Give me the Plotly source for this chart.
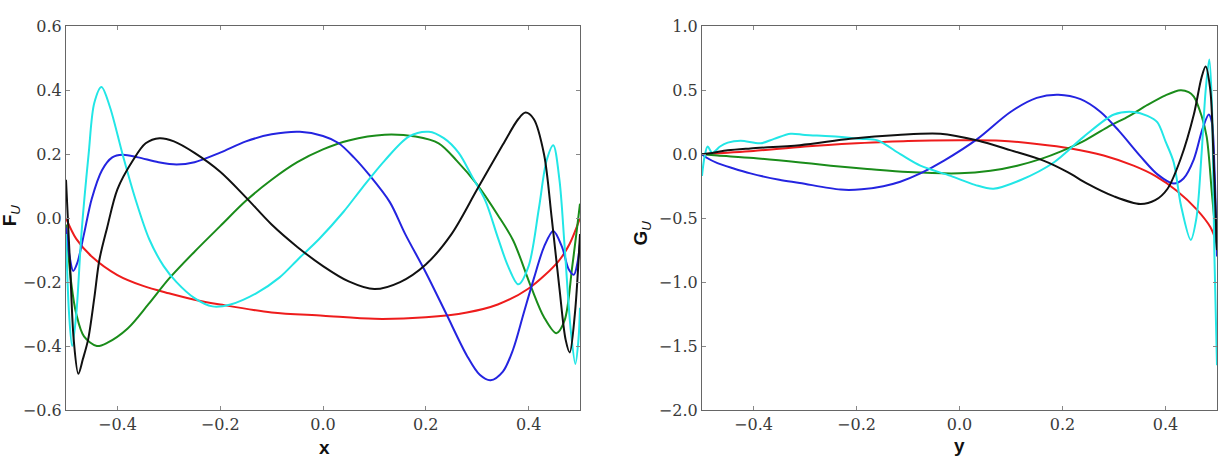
import plotly.graph_objects as go

# ---------------- Left panel: F_U(x) ----------------
fx_red = [-0.5, -0.48, -0.45, -0.4, -0.35, -0.3, -0.25, -0.2, -0.1, 0.0, 0.1, 0.2, 0.28, 0.34, 0.4, 0.458, 0.48, 0.5]
fy_red = [0.0, -0.065, -0.12, -0.178, -0.212, -0.235, -0.255, -0.27, -0.295, -0.305, -0.315, -0.31, -0.295, -0.27, -0.22, -0.135, -0.08, 0.0]

fx_black = [-0.5, -0.492, -0.485, -0.476, -0.467, -0.457, -0.445, -0.435, -0.42, -0.4, -0.37, -0.345, -0.318, -0.29, -0.25, -0.2, -0.15,
            -0.1, -0.05, 0.0, 0.05, 0.1, 0.15, 0.2, 0.25, 0.3, 0.35, 0.38, 0.394, 0.41, 0.43, 0.445, 0.46, 0.472, 0.48, 0.49, 0.5]
fy_black = [0.12, -0.15, -0.38, -0.487, -0.44, -0.38, -0.25, -0.13, -0.03, 0.09, 0.18, 0.234, 0.25, 0.24, 0.204, 0.145, 0.065,
            -0.02, -0.09, -0.15, -0.198, -0.222, -0.2, -0.145, -0.05, 0.09, 0.23, 0.31, 0.33, 0.31, 0.2, 0.0, -0.22, -0.38, -0.42, -0.3, -0.05]

fx_blue = [-0.5, -0.493, -0.486, -0.478, -0.465, -0.45, -0.43, -0.41, -0.39, -0.36, -0.32, -0.285, -0.25, -0.2, -0.15, -0.1, -0.045,
           0.0, 0.03, 0.06, 0.09, 0.13, 0.16, 0.2, 0.24, 0.28, 0.305, 0.326, 0.35, 0.37, 0.39, 0.41, 0.43, 0.448, 0.465, 0.478, 0.488, 0.495, 0.5]
fy_blue = [-0.03, -0.12, -0.165, -0.14, -0.05, 0.06, 0.15, 0.19, 0.198, 0.19, 0.175, 0.168, 0.175, 0.205, 0.24, 0.262, 0.27,
           0.257, 0.235, 0.19, 0.135, 0.05, -0.05, -0.17, -0.3, -0.43, -0.49, -0.507, -0.48, -0.41, -0.3, -0.19, -0.09, -0.04, -0.09, -0.16, -0.177, -0.14, -0.08]

fx_green = [-0.5, -0.49, -0.48, -0.465, -0.44, -0.42, -0.38, -0.34, -0.3, -0.25, -0.2, -0.15, -0.1, -0.05, 0.0, 0.05, 0.12, 0.18,
            0.225, 0.26, 0.3, 0.34, 0.37, 0.405, 0.43, 0.454, 0.47, 0.485, 0.5]
fy_green = [-0.02, -0.2, -0.3, -0.37, -0.4, -0.39, -0.345, -0.27, -0.19, -0.105, -0.025, 0.054, 0.12, 0.175, 0.215, 0.243, 0.261, 0.255,
            0.234, 0.18, 0.105, 0.01, -0.07, -0.216, -0.31, -0.36, -0.32, -0.15, 0.045]

fx_cyan = [-0.5, -0.494, -0.488, -0.48, -0.47, -0.456, -0.445, -0.431, -0.415, -0.39, -0.365, -0.338, -0.31, -0.285, -0.25, -0.215,
           -0.18, -0.13, -0.085, -0.047, -0.008, 0.04, 0.076, 0.12, 0.167, 0.206, 0.235, 0.264, 0.29, 0.316, 0.34, 0.36, 0.38, 0.4,
           0.42, 0.435, 0.448, 0.46, 0.47, 0.482, 0.491, 0.497, 0.5]
fy_cyan = [-0.05, -0.3, -0.4, -0.3, -0.05, 0.2, 0.36, 0.41, 0.35, 0.2, 0.06, -0.066, -0.15, -0.2, -0.25, -0.276,
           -0.27, -0.235, -0.186, -0.126, -0.066, 0.02, 0.094, 0.18, 0.255, 0.27, 0.25, 0.204, 0.13, 0.054, -0.06, -0.15, -0.207, -0.15,
           0.03, 0.18, 0.228, 0.12, -0.087, -0.35, -0.456, -0.38, -0.28]

# ---------------- Right panel: G_U(y) ----------------
gx_red = [-0.5, -0.45, -0.4, -0.3, -0.2, -0.1, 0.0, 0.08, 0.15, 0.216, 0.28, 0.338, 0.38, 0.423, 0.46, 0.487, 0.5]
gy_red = [0.0, 0.012, 0.025, 0.06, 0.085, 0.103, 0.108, 0.105, 0.08, 0.045, -0.01, -0.09, -0.17, -0.29, -0.43, -0.57, -0.7]

gx_black = [-0.5, -0.48, -0.45, -0.406, -0.31, -0.212, -0.12, -0.037, 0.035, 0.1, 0.163, 0.21, 0.248, 0.3, 0.351, 0.38, 0.404,
            0.43, 0.455, 0.47, 0.478, 0.487, 0.493, 0.5]
gy_black = [0.0, 0.01, 0.03, 0.045, 0.07, 0.12, 0.15, 0.16, 0.107, 0.03, -0.05, -0.14, -0.23, -0.33, -0.39, -0.36, -0.27,
            -0.03, 0.31, 0.6, 0.685, 0.5, 0.0, -0.75]

gx_blue = [-0.5, -0.49, -0.47, -0.44, -0.406, -0.35, -0.31, -0.231, -0.19, -0.148, -0.115, -0.076, -0.03, 0.035, 0.099, 0.15,
           0.192, 0.235, 0.274, 0.31, 0.351, 0.385, 0.416, 0.435, 0.455, 0.472, 0.484, 0.49, 0.495, 0.5]
gy_blue = [0.0, -0.03, -0.07, -0.11, -0.15, -0.2, -0.225, -0.277, -0.275, -0.25, -0.215, -0.15, -0.05, 0.12, 0.33, 0.44,
           0.465, 0.43, 0.33, 0.18, -0.015, -0.16, -0.23, -0.19, -0.04, 0.2, 0.31, 0.25, -0.1, -0.8]

gx_green = [-0.5, -0.47, -0.4, -0.309, -0.25, -0.179, -0.1, 0.0, 0.06, 0.112, 0.16, 0.196, 0.24, 0.287, 0.33, 0.365, 0.4,
            0.429, 0.445, 0.455, 0.47, 0.48, 0.49, 0.5]
gy_green = [0.0, -0.01, -0.03, -0.065, -0.09, -0.115, -0.14, -0.15, -0.13, -0.09, -0.035, 0.02, 0.1, 0.21, 0.3, 0.385, 0.46,
            0.5, 0.485, 0.45, 0.3, 0.135, -0.3, -0.75]

gx_cyan = [-0.5, -0.495, -0.489, -0.48, -0.465, -0.45, -0.425, -0.386, -0.36, -0.328, -0.3, -0.25, -0.192, -0.159, -0.115,
           -0.076, -0.017, 0.03, 0.066, 0.12, 0.183, 0.241, 0.3, 0.338, 0.365, 0.384, 0.4, 0.416, 0.43, 0.449, 0.46, 0.47,
           0.478, 0.485, 0.49, 0.495, 0.5]
gy_cyan = [-0.17, -0.02, 0.06, 0.01, 0.06, 0.09, 0.105, 0.085, 0.12, 0.16, 0.15, 0.14, 0.12, 0.107, 0.0,
           -0.09, -0.17, -0.24, -0.27, -0.2, -0.065, 0.135, 0.31, 0.33, 0.3, 0.25, 0.1, -0.065, -0.4, -0.67, -0.5, 0.0,
           0.5, 0.74, 0.4, -0.8, -1.65]

left_yticks = [0.6, 0.4, 0.2, 0.0, -0.2, -0.4, -0.6]
right_yticks = [1.0, 0.5, 0.0, -0.5, -1.0, -1.5, -2.0]
xticks = [-0.4, -0.2, 0.0, 0.2, 0.4]

colors = {"red": "#ee1c1c", "black": "#111111", "blue": "#2424e0", "green": "#1a8c1a", "cyan": "#22e6e6"}


def lab(v):
    s = f"{abs(v):.1f}"
    return ("\u2212" + s) if v < 0 else s


fig = go.Figure()
left = [("red", fx_red, fy_red), ("green", fx_green, fy_green), ("blue", fx_blue, fy_blue),
        ("cyan", fx_cyan, fy_cyan), ("black", fx_black, fy_black)]
right = [("red", gx_red, gy_red), ("green", gx_green, gy_green), ("blue", gx_blue, gy_blue),
         ("cyan", gx_cyan, gy_cyan), ("black", gx_black, gy_black)]
for name, xs, ys in left:
    fig.add_trace(go.Scatter(x=xs, y=ys, mode="lines", xaxis="x", yaxis="y",
                             line=dict(color=colors[name], width=2, shape="spline", smoothing=0.9),
                             showlegend=False))
for name, xs, ys in right:
    fig.add_trace(go.Scatter(x=xs, y=ys, mode="lines", xaxis="x2", yaxis="y2",
                             line=dict(color=colors[name], width=2, shape="spline", smoothing=0.9),
                             showlegend=False))

W, H = 1223, 467
tickfont = dict(family="DejaVu Serif", size=16, color="#3a3a3a")
axcommon = dict(showgrid=False, zeroline=False, showline=True, linecolor="#666666", linewidth=1.2,
                mirror="ticks", ticks="inside", ticklen=4, tickcolor="#888888", tickfont=tickfont)

fig.update_layout(
    width=W, height=H, margin=dict(l=0, r=0, t=0, b=0),
    paper_bgcolor="white", plot_bgcolor="white",
    xaxis=dict(domain=[66 / W, 580 / W], range=[-0.5, 0.5], anchor="y",
               tickvals=xticks, ticktext=[lab(v) for v in xticks], **axcommon),
    yaxis=dict(domain=[(H - 418) / H, (H - 18) / H], range=[-0.6, 0.6], anchor="x",
               tickvals=left_yticks, ticktext=[lab(v) for v in left_yticks], **axcommon),
    xaxis2=dict(domain=[702 / W, 1217 / W], range=[-0.5, 0.5], anchor="y2",
                tickvals=xticks, ticktext=[lab(v) for v in xticks], **axcommon),
    yaxis2=dict(domain=[(H - 418) / H, (H - 18) / H], range=[-2.0, 1.0], anchor="x2",
                tickvals=right_yticks, ticktext=[lab(v) for v in right_yticks], **axcommon),
)

labfont = dict(family="Liberation Sans", size=19, color="#111111")
fig.add_annotation(x=324 / W, y=(H - 457) / H, xref="paper", yref="paper", text="<b>x</b>",
                   showarrow=False, font=labfont, xanchor="center", yanchor="middle")
fig.add_annotation(x=959 / W, y=(H - 455) / H, xref="paper", yref="paper", text="<b>y</b>",
                   showarrow=False, font=labfont, xanchor="center", yanchor="middle")
fig.add_annotation(x=11 / W, y=(H - 215) / H, xref="paper", yref="paper",
                   text="<b>F</b><sub><i>U</i></sub>", textangle=-90,
                   showarrow=False, font=labfont, xanchor="center", yanchor="middle")
fig.add_annotation(x=642 / W, y=(H - 234) / H, xref="paper", yref="paper",
                   text="<b>G</b><sub><i>U</i></sub>", textangle=-90,
                   showarrow=False, font=labfont, xanchor="center", yanchor="middle")

fig.write_html("out.html")
